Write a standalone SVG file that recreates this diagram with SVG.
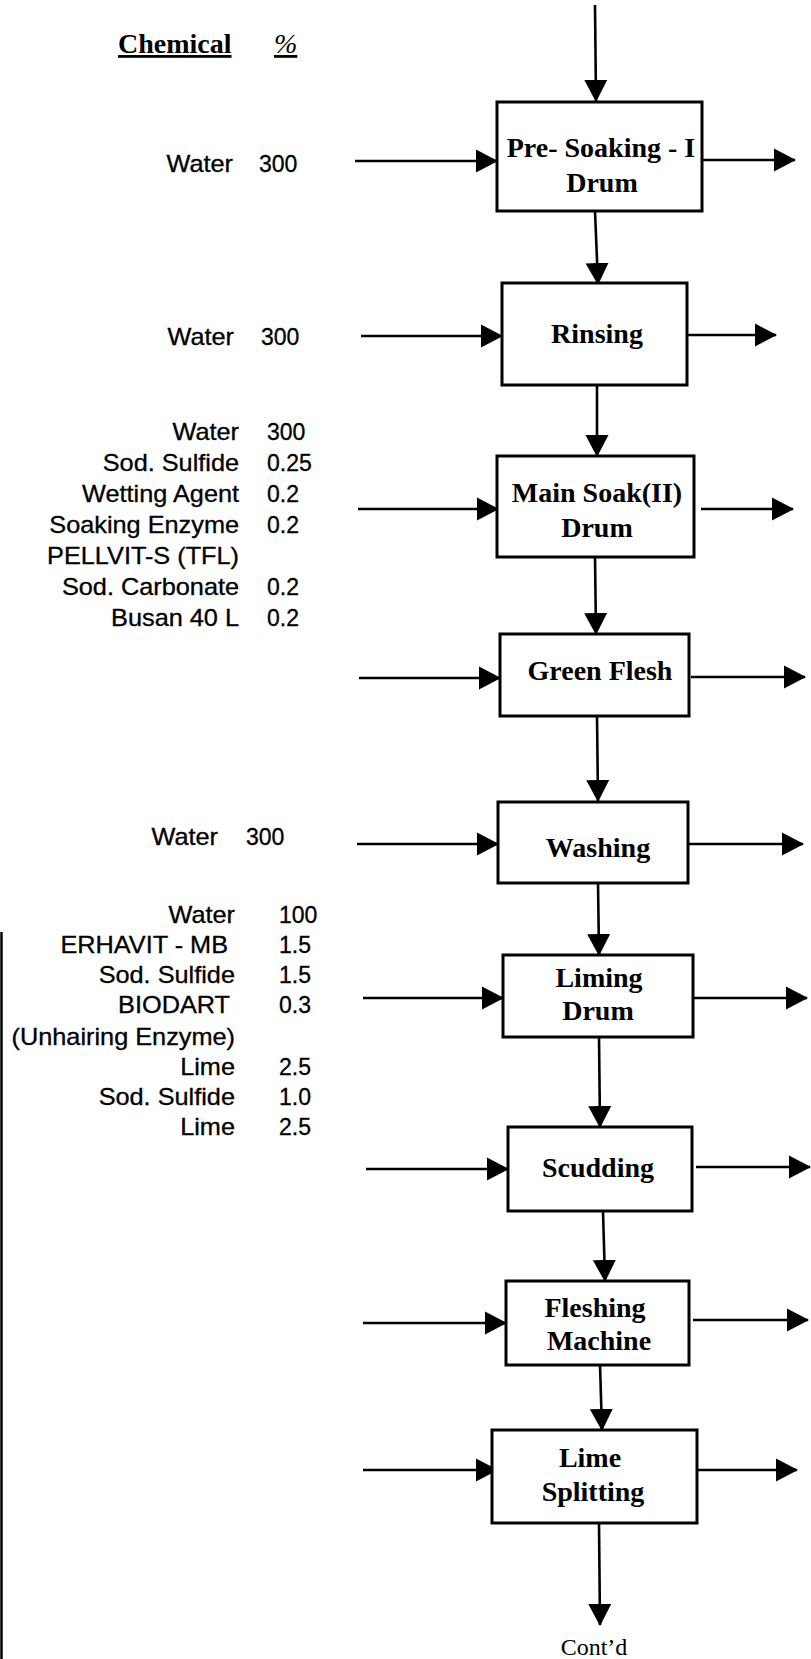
<svg xmlns="http://www.w3.org/2000/svg" width="811" height="1659" viewBox="0 0 811 1659">
<style>
.box{fill:#fff;stroke:#000;stroke-width:3}
.lbl{font-family:"Liberation Serif","Times New Roman",serif;font-weight:bold;font-size:28px;text-anchor:middle;fill:#000}
.chem{font-family:"Liberation Sans",Arial,sans-serif;font-size:23px;fill:#000;stroke:#000;stroke-width:0.3}
.nm{text-anchor:end}
.cn{stroke:#000;stroke-width:2.6;fill:none}
</style>
<defs>
<marker id="ah" markerUnits="userSpaceOnUse" markerWidth="23" markerHeight="24" refX="21" refY="11.5" orient="auto" viewBox="0 0 23 23">
<path d="M0,0 L22,11.5 L0,23 z" fill="#000"/>
</marker>
</defs>
<rect width="811" height="1659" fill="#fff"/>

<g id="header">
<text x="118" y="53" font-family="'Liberation Serif','Times New Roman',serif" font-weight="bold" font-size="28" text-decoration="underline">Chemical</text>
<text x="274" y="53" font-family="'Liberation Serif','Times New Roman',serif" font-style="italic" font-size="28" text-decoration="underline">%</text>
</g>

<g id="chemicals">
<g class="chem nm" transform="scale(1.1 1)">
<text x="211.8" y="172">Water</text>
<text x="212.7" y="345">Water</text>
<text x="217.3" y="440">Water</text>
<text x="217.3" y="471">Sod. Sulfide</text>
<text x="217.3" y="502">Wetting Agent</text>
<text x="217.3" y="533">Soaking Enzyme</text>
<text x="217.3" y="564">PELLVIT-S (TFL)</text>
<text x="217.3" y="595">Sod. Carbonate</text>
<text x="217.3" y="626">Busan 40 L</text>
<text x="198.2" y="845">Water</text>
<text x="213.6" y="923">Water</text>
<text x="207.3" y="953">ERHAVIT - MB</text>
<text x="213.6" y="983">Sod. Sulfide</text>
<text x="209.1" y="1013">BIODART</text>
<text x="213.6" y="1045">(Unhairing Enzyme)</text>
<text x="213.6" y="1075">Lime</text>
<text x="213.6" y="1105">Sod. Sulfide</text>
<text x="213.6" y="1135">Lime</text>
</g>
<g class="chem">
<text x="259" y="172">300</text>
<text x="261" y="345">300</text>
<text x="267" y="440">300</text>
<text x="267" y="471">0.25</text>
<text x="267" y="502">0.2</text>
<text x="267" y="533">0.2</text>
<text x="267" y="595">0.2</text>
<text x="267" y="626">0.2</text>
<text x="246" y="845">300</text>
<text x="279" y="923">100</text>
<text x="279" y="953">1.5</text>
<text x="279" y="983">1.5</text>
<text x="279" y="1013">0.3</text>
<text x="279" y="1075">2.5</text>
<text x="279" y="1105">1.0</text>
<text x="279" y="1135">2.5</text>
</g>
</g>

<g id="connectors" class="cn" marker-end="url(#ah)">
<line x1="595" y1="5" x2="596" y2="101"/>
<line x1="595" y1="211" x2="598" y2="284"/>
<line x1="597" y1="385" x2="597" y2="456"/>
<line x1="595" y1="557" x2="596" y2="634"/>
<line x1="597" y1="716" x2="598" y2="801"/>
<line x1="598" y1="883" x2="599" y2="955"/>
<line x1="599" y1="1037" x2="600" y2="1127"/>
<line x1="603" y1="1211" x2="605" y2="1281"/>
<line x1="600" y1="1365" x2="602" y2="1430"/>
<line x1="599" y1="1523" x2="600" y2="1625"/>

<line x1="355" y1="161" x2="497" y2="161"/>
<line x1="702" y1="160" x2="795" y2="160"/>
<line x1="361" y1="336" x2="502" y2="336"/>
<line x1="687" y1="335" x2="776" y2="335"/>
<line x1="358" y1="509" x2="498" y2="509"/>
<line x1="701" y1="509" x2="793" y2="509"/>
<line x1="359" y1="678" x2="500" y2="678"/>
<line x1="691" y1="677" x2="805" y2="677"/>
<line x1="357" y1="844" x2="498" y2="844"/>
<line x1="689" y1="844" x2="803" y2="844"/>
<line x1="363" y1="998" x2="503" y2="998"/>
<line x1="693" y1="998" x2="807" y2="998"/>
<line x1="366" y1="1169" x2="508" y2="1169"/>
<line x1="696" y1="1167" x2="810" y2="1167"/>
<line x1="363" y1="1323" x2="506" y2="1323"/>
<line x1="693" y1="1320" x2="808" y2="1320"/>
<line x1="363" y1="1470" x2="497" y2="1470"/>
<line x1="697" y1="1470" x2="797" y2="1470"/>
</g>

<g id="n1"><rect class="box" x="497" y="102" width="205" height="109"/>
<text class="lbl" x="601" y="157">Pre- Soaking - I</text><text class="lbl" x="602" y="192">Drum</text></g>
<g id="n2"><rect class="box" x="502" y="283" width="185" height="102"/>
<text class="lbl" x="597" y="343">Rinsing</text></g>
<g id="n3"><rect class="box" x="497" y="456" width="197" height="101"/>
<text class="lbl" x="597" y="502">Main Soak(II)</text><text class="lbl" x="597" y="537">Drum</text></g>
<g id="n4"><rect class="box" x="500" y="634" width="189" height="82"/>
<text class="lbl" x="600" y="680">Green Flesh</text></g>
<g id="n5"><rect class="box" x="498" y="802" width="190" height="81"/>
<text class="lbl" x="598" y="857">Washing</text></g>
<g id="n6"><rect class="box" x="503" y="955" width="190" height="82"/>
<text class="lbl" x="599" y="987">Liming</text><text class="lbl" x="598" y="1020">Drum</text></g>
<g id="n7"><rect class="box" x="508" y="1127" width="184" height="84"/>
<text class="lbl" x="598" y="1177">Scudding</text></g>
<g id="n8"><rect class="box" x="506" y="1281" width="183" height="84"/>
<text class="lbl" x="595" y="1317">Fleshing</text><text class="lbl" x="599" y="1350">Machine</text></g>
<g id="n9"><rect class="box" x="492" y="1430" width="205" height="93"/>
<text class="lbl" x="590" y="1467">Lime</text><text class="lbl" x="593" y="1501">Splitting</text></g>

<g id="contd"><text x="594" y="1655" font-family="'Liberation Serif','Times New Roman',serif" font-size="24" text-anchor="middle">Cont’d</text></g>

<line id="edge" x1="1.5" y1="932" x2="1.5" y2="1659" stroke="#000" stroke-width="2.5"/>
</svg>
